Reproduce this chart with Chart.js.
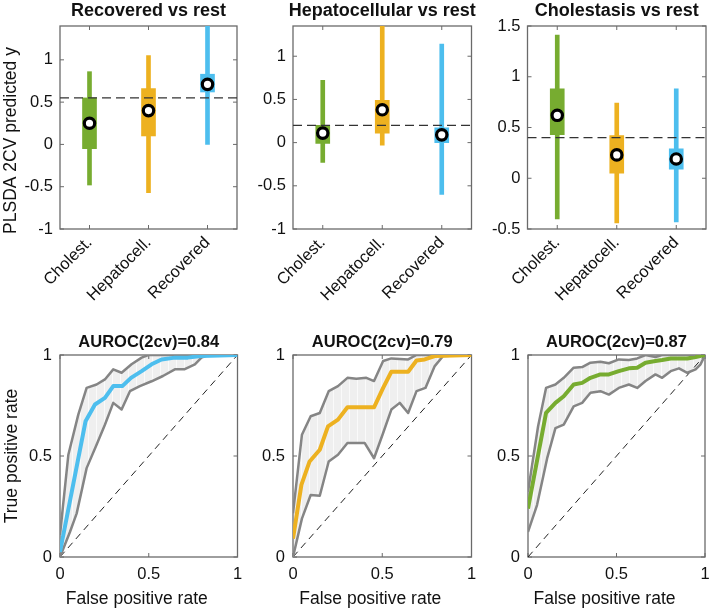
<!DOCTYPE html>
<html><head><meta charset="utf-8">
<script src="https://cdn.jsdelivr.net/npm/chart.js@4/dist/chart.umd.min.js"></script>
<style>
html,body{margin:0;padding:0;background:#fff;overflow:hidden;width:709px;height:610px;position:relative;}
canvas{position:absolute;}
</style></head><body>
<canvas id="c1" width="240" height="310" style="left:0px;top:0px"></canvas>
<canvas id="c2" width="245" height="310" style="left:240px;top:0px"></canvas>
<canvas id="c3" width="224" height="310" style="left:485px;top:0px"></canvas>
<canvas id="c4" width="245" height="300" style="left:0px;top:310px"></canvas>
<canvas id="c5" width="240" height="300" style="left:245px;top:310px"></canvas>
<canvas id="c6" width="224" height="300" style="left:485px;top:310px"></canvas>
<script>
// ---------- data ----------
const categories = ['Cholest.', 'Hepatocell.', 'Recovered'];

// Top row: PLSDA 2CV predicted y (whisker range, box range, median marker, threshold)
const title1 = 'Recovered vs rest';
const whiskerLo1 = [-0.48, -0.57, 0.00];
const whiskerHi1 = [0.86, 1.05, 1.50];
const boxLo1 = [-0.05, 0.10, 0.62];
const boxHi1 = [0.55, 0.66, 0.83];
const median1 = [0.25, 0.40, 0.71];
const threshold1 = 0.55;
const yTicks1 = [-1, -0.5, 0, 0.5, 1];

const title2 = 'Hepatocellular vs rest';
const whiskerLo2 = [-0.23, -0.03, -0.60];
const whiskerHi2 = [0.72, 1.45, 1.14];
const boxLo2 = [-0.01, 0.11, 0.00];
const boxHi2 = [0.20, 0.49, 0.17];
const median2 = [0.11, 0.38, 0.09];
const threshold2 = 0.20;
const yTicks2 = [-1, -0.5, 0, 0.5, 1];

const title3 = 'Cholestasis vs rest';
const whiskerLo3 = [-0.40, -0.44, -0.43];
const whiskerHi3 = [1.41, 0.74, 0.88];
const boxLo3 = [0.43, 0.05, 0.09];
const boxHi3 = [0.88, 0.42, 0.29];
const median3 = [0.62, 0.23, 0.19];
const threshold3 = 0.40;
const yTicks3 = [-0.5, 0, 0.5, 1, 1.5];

// Bottom row: ROC curves (mean, upper and lower band)
const title4 = 'AUROC(2cv)=0.84';
const meanX4 = [0, 0.144, 0.197, 0.253, 0.30, 0.351, 0.40, 0.46, 0.516, 0.572, 0.647, 0.72, 0.795, 1];
const meanY4 = [0.025, 0.672, 0.755, 0.788, 0.846, 0.846, 0.887, 0.92, 0.954, 0.978, 0.987, 0.987, 0.995, 1];
const upperX4 = [0, 0.047, 0.103, 0.15, 0.206, 0.253, 0.30, 0.347, 0.403, 0.46, 0.497, 1];
const upperY4 = [0.11, 0.506, 0.705, 0.837, 0.854, 0.879, 0.929, 0.912, 0.954, 0.987, 1, 1];
const lowerX4 = [0, 0.056, 0.094, 0.15, 0.206, 0.253, 0.30, 0.347, 0.394, 0.45, 0.516, 0.58, 0.647, 0.70, 0.76, 0.797, 0.835, 1];
const lowerY4 = [0, 0.124, 0.216, 0.44, 0.556, 0.655, 0.763, 0.73, 0.821, 0.846, 0.87, 0.896, 0.929, 0.929, 0.954, 0.987, 1, 1];

const title5 = 'AUROC(2cv)=0.79';
const meanX5 = [0, 0.047, 0.093, 0.15, 0.196, 0.252, 0.305, 0.454, 0.505, 0.551, 0.645, 0.692, 0.738, 0.794, 1];
const meanY5 = [0.091, 0.357, 0.473, 0.531, 0.647, 0.68, 0.741, 0.741, 0.837, 0.917, 0.917, 0.973, 0.978, 0.995, 1];
const upperX5 = [0, 0.05, 0.099, 0.15, 0.2, 0.252, 0.305, 0.355, 0.411, 0.454, 0.505, 0.551, 0.645, 0.692, 1];
const upperY5 = [0.216, 0.605, 0.697, 0.713, 0.821, 0.846, 0.887, 0.882, 0.887, 0.871, 0.97, 0.983, 0.978, 1, 1];
const lowerX5 = [0, 0.05, 0.099, 0.15, 0.2, 0.252, 0.305, 0.402, 0.454, 0.505, 0.551, 0.598, 0.645, 0.692, 0.742, 0.794, 0.841, 1];
const lowerY5 = [0, 0.19, 0.307, 0.303, 0.473, 0.506, 0.564, 0.564, 0.489, 0.614, 0.73, 0.763, 0.713, 0.821, 0.837, 0.945, 0.995, 1];

const title6 = 'AUROC(2cv)=0.87';
const meanX6 = [0, 0.102, 0.155, 0.202, 0.258, 0.306, 0.353, 0.409, 0.457, 0.513, 0.57, 0.617, 0.664, 0.72, 0.758, 0.806, 0.853, 0.9, 0.947, 1];
const meanY6 = [0.24, 0.713, 0.763, 0.796, 0.854, 0.862, 0.887, 0.904, 0.904, 0.92, 0.934, 0.937, 0.962, 0.97, 0.975, 0.983, 0.983, 0.983, 0.99, 1];
const upperX6 = [0, 0.057, 0.102, 0.155, 0.202, 0.258, 0.306, 0.353, 0.409, 0.457, 0.513, 0.57, 0.617, 0.664, 0.72, 0.758, 1];
const upperY6 = [0.323, 0.647, 0.837, 0.854, 0.887, 0.937, 0.94, 0.962, 0.967, 0.959, 0.978, 0.975, 0.983, 1, 0.99, 1, 1];
const lowerX6 = [0, 0.051, 0.108, 0.155, 0.202, 0.258, 0.306, 0.353, 0.409, 0.457, 0.513, 0.57, 0.617, 0.664, 0.72, 0.758, 0.806, 0.853, 0.9, 0.947, 0.975, 1];
const lowerY6 = [0.124, 0.257, 0.488, 0.638, 0.655, 0.746, 0.763, 0.813, 0.821, 0.804, 0.837, 0.854, 0.837, 0.871, 0.904, 0.887, 0.92, 0.934, 0.912, 0.929, 0.954, 1];

const rocTicks = [0, 0.5, 1];
const diagX = [0, 1];
const diagY = [0, 1];

const yAxisLabelTop = 'PLSDA 2CV predicted y';
const yAxisLabelRoc = 'True positive rate';
const xAxisLabelRoc = 'False positive rate';

// ---------- styling ----------
const GREEN = '#77AC30', ORANGE = '#EDB120', BLUE = '#4DBEEE', GRAY = '#858585';
const FONT = '"Liberation Sans", Arial, Helvetica, sans-serif';
const TEXT = '#111';
Chart.defaults.font.family = FONT;
Chart.defaults.color = TEXT;
Chart.defaults.animation = false;

function fmt(v) { return String(v); }

const mlAxes = {
  id: 'mlAxes',
  beforeDatasetsDraw(chart, args, o) {
    const {ctx, chartArea: a} = chart;
    const xs = chart.scales.x, ys = chart.scales.y;
    ctx.save();
    ctx.strokeStyle = '#6a6a6a';
    ctx.lineWidth = 1;
    ctx.beginPath();
    xs.ticks.forEach((t, i) => {
      const p = xs.getPixelForTick(i);
      ctx.moveTo(p, a.bottom); ctx.lineTo(p, a.bottom - 4);
      ctx.moveTo(p, a.top); ctx.lineTo(p, a.top + 4);
    });
    ys.ticks.forEach((t, i) => {
      const p = ys.getPixelForTick(i);
      ctx.moveTo(a.left, p); ctx.lineTo(a.left + 4, p);
      ctx.moveTo(a.right, p); ctx.lineTo(a.right - 4, p);
    });
    ctx.stroke();
    ctx.lineWidth = 1.3;
    ctx.strokeRect(a.left, a.top, a.right - a.left, a.bottom - a.top);
    ctx.restore();
  },
  afterDraw(chart, args, o) {
    const {ctx, chartArea: a} = chart;
    const cx = (a.left + a.right) / 2, cy = (a.top + a.bottom) / 2;
    ctx.save();
    ctx.fillStyle = TEXT;
    ctx.textAlign = 'center';
    ctx.textBaseline = 'alphabetic';
    if (o.title) {
      ctx.font = 'bold ' + o.titleSize + 'px ' + FONT;
      ctx.fillText(o.title, cx + (o.titleDx || 0), a.top - o.titleDy);
    }
    if (o.xlabel) {
      ctx.font = o.labelSize + 'px ' + FONT;
      ctx.fillText(o.xlabel, cx + o.xlabelDx, a.bottom + o.xlabelDy);
    }
    if (o.ylabel) {
      ctx.font = o.labelSize + 'px ' + FONT;
      ctx.translate(a.left - o.ylabelDx, cy + o.ylabelDy);
      ctx.rotate(-Math.PI / 2);
      ctx.fillText(o.ylabel, 0, 0);
    }
    ctx.restore();
  }
};

function pts(xs, ys) { return xs.map((x, i) => ({x: x, y: ys[i]})); }

function boxChart(id, o) {
  const colors = [GREEN, ORANGE, BLUE];
  return new Chart(document.getElementById(id), {
    type: 'bar',
    data: {
      labels: categories,
      datasets: [
        {type: 'line', xAxisID: 'x', yAxisID: 'y', data: o.median, showLine: false,
         pointRadius: 5.2, pointBorderWidth: 3.2, pointBackgroundColor: '#fff', pointBorderColor: '#000', order: 0},
        {type: 'line', xAxisID: 'xl', yAxisID: 'y', data: [{x: 0.5, y: o.thr}, {x: 3.5, y: o.thr}],
         borderColor: '#333', borderWidth: 1.1, borderDash: [9, 5], pointRadius: 0, order: 1},
        {type: 'bar', xAxisID: 'x', yAxisID: 'y', data: o.boxLo.map((v, i) => [v, o.boxHi[i]]),
         backgroundColor: colors, barThickness: 14, grouped: false, borderWidth: 0, order: 2, clip: 0},
        {type: 'bar', xAxisID: 'x', yAxisID: 'y', data: o.whLo.map((v, i) => [v, o.whHi[i]]),
         backgroundColor: colors, barThickness: 4, grouped: false, borderWidth: 0, order: 3, clip: 0}
      ]
    },
    options: {
      responsive: false, animation: false, events: [],
      layout: {padding: {left: 0, right: o.padRight, top: 26, bottom: 0}, autoPadding: false},
      plugins: {
        legend: {display: false}, tooltip: {enabled: false},
        mlAxes: {title: o.title, titleSize: 18, titleDy: 10, titleDx: 0,
                 ylabel: o.ylabel, labelSize: 17.5, ylabelDx: 44, ylabelDy: 13}
      },
      scales: {
        x: {type: 'category', offset: true, grid: {display: false, drawTicks: false}, border: {display: false},
            ticks: {minRotation: 45, maxRotation: 45, autoSkip: false, padding: 4, font: {size: 16.5}, color: TEXT},
            afterFit: s => { s.height = 81; s.paddingLeft = 0; s.paddingRight = 0; }},
        xl: {type: 'linear', display: false, min: 0.5, max: 3.5, offset: false},
        y: {type: 'linear', min: o.yMin, max: o.yMax,
            grid: {display: false, drawTicks: false}, border: {display: false},
            afterBuildTicks: s => { s.ticks = o.yTicks.map(v => ({value: v})); },
            ticks: {padding: 7, font: {size: 16.5}, color: TEXT, autoSkip: false,
                    callback: (v) => fmt(v)},
            afterFit: s => { s.width = o.yWidth; s.paddingTop = 0; s.paddingBottom = 0; }}
      }
    },
    plugins: [mlAxes]
  });
}

function makePattern() {
  const c = document.createElement('canvas');
  c.width = 8; c.height = 4;
  const g = c.getContext('2d');
  g.fillStyle = '#efefef'; g.fillRect(0, 0, 8, 4);
  g.fillStyle = '#fafafa'; g.fillRect(0, 0, 1, 4);
  return g.createPattern(c, 'repeat');
}

function rocChart(id, o) {
  return new Chart(document.getElementById(id), {
    type: 'line',
    data: {
      datasets: [
        {data: pts(o.meanX, o.meanY), borderColor: o.color, borderWidth: 4, pointRadius: 0, tension: 0,
         borderJoinStyle: 'round', order: 0},
        {data: pts(diagX, diagY), borderColor: '#222', borderWidth: 1, borderDash: [7, 5], pointRadius: 0, order: 2},
        {data: pts(o.lowX, o.lowY), borderColor: GRAY, borderWidth: 2.5, pointRadius: 0, tension: 0,
         borderJoinStyle: 'round', order: 1},
        {data: pts(o.upX, o.upY), borderColor: GRAY, borderWidth: 2.5, pointRadius: 0, tension: 0,
         borderJoinStyle: 'round', fill: '-1', backgroundColor: makePattern(), order: 1}
      ]
    },
    options: {
      responsive: false, animation: false, events: [],
      layout: {padding: {left: 0, right: o.padRight, top: 45, bottom: 0}, autoPadding: false},
      plugins: {
        legend: {display: false}, tooltip: {enabled: false},
        filler: {drawTime: 'beforeDatasetsDraw', propagate: false},
        mlAxes: {title: o.title, titleSize: 16.5, titleDy: 8.5, titleDx: 0,
                 xlabel: xAxisLabelRoc, xlabelDx: -12, xlabelDy: 47, labelSize: 17.5,
                 ylabel: o.ylabel, ylabelDx: 43, ylabelDy: 0}
      },
      scales: {
        x: {type: 'linear', min: 0, max: 1, grid: {display: false, drawTicks: false}, border: {display: false},
            afterBuildTicks: s => { s.ticks = rocTicks.map(v => ({value: v})); },
            ticks: {padding: 8, font: {size: 16.5}, color: TEXT, autoSkip: false, maxRotation: 0,
                    callback: (v) => fmt(v)},
            afterFit: s => { s.height = 53; s.paddingLeft = 0; s.paddingRight = 0; }},
        y: {type: 'linear', min: 0, max: 1, grid: {display: false, drawTicks: false}, border: {display: false},
            afterBuildTicks: s => { s.ticks = rocTicks.map(v => ({value: v})); },
            ticks: {padding: 8, font: {size: 16.5}, color: TEXT, autoSkip: false,
                    callback: (v) => fmt(v)},
            afterFit: s => { s.width = o.yWidth; s.paddingTop = 0; s.paddingBottom = 0; }}
      }
    },
    plugins: [mlAxes]
  });
}

boxChart('c1', {title: title1, ylabel: yAxisLabelTop, whLo: whiskerLo1, whHi: whiskerHi1, boxLo: boxLo1, boxHi: boxHi1,
  median: median1, thr: threshold1, yTicks: yTicks1, yMin: -1, yMax: 1.4, yWidth: 60, padRight: 3});
boxChart('c2', {title: title2, whLo: whiskerLo2, whHi: whiskerHi2, boxLo: boxLo2, boxHi: boxHi2,
  median: median2, thr: threshold2, yTicks: yTicks2, yMin: -1, yMax: 1.35, yWidth: 53, padRight: 13.5});
boxChart('c3', {title: title3, whLo: whiskerLo3, whHi: whiskerHi3, boxLo: boxLo3, boxHi: boxHi3,
  median: median3, thr: threshold3, yTicks: yTicks3, yMin: -0.5, yMax: 1.5, yWidth: 42.5, padRight: 3});

rocChart('c4', {title: title4, ylabel: yAxisLabelRoc, color: BLUE, meanX: meanX4, meanY: meanY4,
  upX: upperX4, upY: upperY4, lowX: lowerX4, lowY: lowerY4, yWidth: 60, padRight: 7.5});
rocChart('c5', {title: title5, color: ORANGE, meanX: meanX5, meanY: meanY5,
  upX: upperX5, upY: upperY5, lowX: lowerX5, lowY: lowerY5, yWidth: 48, padRight: 13.5});
rocChart('c6', {title: title6, color: GREEN, meanX: meanX6, meanY: meanY6,
  upX: upperX6, upY: upperY6, lowX: lowerX6, lowY: lowerY6, yWidth: 43, padRight: 4});
</script>
</body></html>
